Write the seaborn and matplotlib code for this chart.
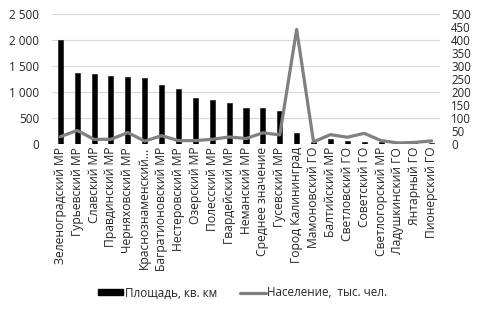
import numpy as np
import pandas as pd
import seaborn as sns
import matplotlib.pyplot as plt
from matplotlib.lines import Line2D
from matplotlib.patches import Patch
from matplotlib.ticker import FuncFormatter

# ---------------------------------------
# Data
# ---------------------------------------
districts = [
    "Зеленоградский МР", "Гурьевский МР", "Славский МР", "Правдинский МР",
    "Черняховский МР", "Краснознаменский…", "Багратионовский МР",
    "Нестеровский МР", "Озерский МР", "Полесский МР", "Гвардейский МР",
    "Неманский МР", "Среднее значение", "Гусевский МР", "Город Калининград",
    "Мамоновский ГО", "Балтийский МР", "Светловский ГО", "Советский ГО",
    "Светлогорский МР", "Ладушкинский ГО", "Янтарный ГО", "Пионерский ГО",
]
area_km2 = [2010, 1360, 1350, 1300, 1290, 1270, 1140, 1055, 885, 845, 780,
            690, 690, 635, 220, 30, 90, 65, 45, 40, 15, 10, 10]
population_k = [28, 52, 18, 18, 44, 11, 32, 13, 13, 18, 27,
                21, 43, 35, 441, 8, 36, 26, 41, 13, 4, 6, 12]

df = pd.DataFrame({"district": districts, "area": area_km2, "pop": population_k})

# ---------------------------------------
# Plot
# ---------------------------------------
sns.set_style("white")
plt.rcParams["font.family"] = ["Open Sans", "DejaVu Sans"]
text_col = "#262626"

fig = plt.figure(figsize=(4.8, 3.13), dpi=100)
ax = fig.add_axes([0.108, 0.54, 0.809, 0.415])

sns.barplot(data=df, x="district", y="area", color="black",
            width=0.3, edgecolor="#222222", linewidth=0.5, ax=ax, zorder=3)
ax.set_ylim(0, 2500)
ax.set_yticks(range(0, 2501, 500))
ax.yaxis.set_major_formatter(FuncFormatter(lambda v, p: f"{int(v):,}".replace(",", " ")))
ax.grid(axis="y", color="#d9d9d9", linewidth=0.8, zorder=0)
ax.set_axisbelow(True)
ax.set_xlabel("")
ax.set_ylabel("")
ax.set_xlim(-0.5, len(districts) - 0.5)
ax.tick_params(axis="x", rotation=90, labelsize=8.7, pad=2, length=0,
               labelcolor=text_col)
ax.tick_params(axis="y", labelsize=8.5, length=0, pad=9, labelcolor=text_col)
for s in ax.spines.values():
    s.set_visible(False)

ax2 = ax.twinx()
sns.lineplot(x=np.arange(len(districts)), y=df["pop"], color="#808080",
             linewidth=2.3, ax=ax2, zorder=4)
ax2.set_ylim(0, 500)
ax2.set_yticks(range(0, 501, 50))
ax2.set_ylabel("")
ax2.tick_params(axis="y", labelsize=8.3, length=0, pad=8, labelcolor=text_col)
for s in ax2.spines.values():
    s.set_visible(False)

handles = [Patch(facecolor="black", edgecolor="black"),
           Line2D([0], [0], color="#808080", linewidth=2.3)]
fig.legend(handles, ["Площадь, кв. км", "Население,  тыс. чел."],
           loc="center", bbox_to_anchor=(0.505, 0.064), ncol=2, frameon=False,
           fontsize=8.4, handlelength=2.2, handleheight=0.4,
           handletextpad=0.1, columnspacing=2.0, labelcolor=text_col)

plt.savefig("out.png", dpi=100)
